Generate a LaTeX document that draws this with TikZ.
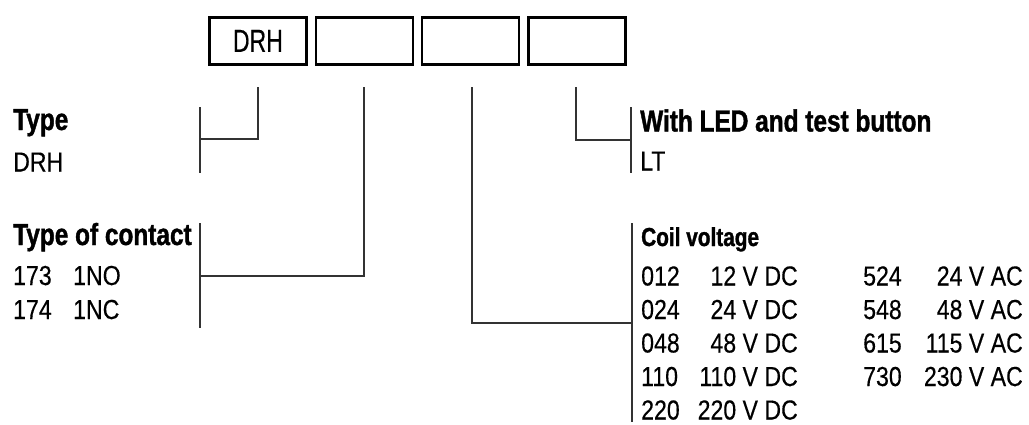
\documentclass[tikz,border=0pt]{standalone}
\usepackage{fontspec}
\setmainfont{Liberation Sans}
\newfontfamily\regf{Liberation Sans}[FakeStretch=0.84, FakeBold=0.35]
\newfontfamily\boxf{Liberation Sans}[FakeStretch=0.72, FakeBold=0.35]
\newfontfamily\boldf{Liberation Sans}[FakeStretch=0.8, BoldFeatures={FakeBold=1.2}]
\tikzset{
  codebox/.style={draw=black, line width=2.5pt, minimum width=97pt, minimum height=47pt, inner sep=0pt, font=\boxf\fontsize{32}{32}\selectfont},
  conn/.style={draw=black!80, line width=1.6pt},
  head/.style={anchor=base west, inner sep=0pt, font=\boldf\bfseries\fontsize{30.5}{30}\selectfont},
  subhead/.style={anchor=base west, inner sep=0pt, font=\boldf\bfseries\fontsize{26}{26}\selectfont},
  item/.style={anchor=base west, inner sep=0pt, font=\regf\fontsize{27.5}{27.5}\selectfont},
  val/.style={anchor=base east, inner sep=0pt, font=\regf\fontsize{27.5}{27.5}\selectfont},
}
\begin{document}
\begin{tikzpicture}[x=1pt,y=-1pt]
\fill[white] (0,0) rectangle (1029,424);
\useasboundingbox (0,0) rectangle (1029,424);
% code boxes
\node[codebox] (b1) at (257.9,40.9) {DRH};
\node[codebox] (b2) at (364.4,40.9) {};
\node[codebox] (b3) at (470.5,40.9) {};
\node[codebox] (b4) at (577.0,40.9) {};
% connector start points
\coordinate (s1) at (258,87);
\coordinate (s2) at (364,87);
\coordinate (s3) at (472,87);
\coordinate (s4) at (576,87);
% brackets
\coordinate (k1a) at (200,107); \coordinate (k1b) at (200,173); \coordinate (k1) at (200,139);
\coordinate (k2a) at (200,223); \coordinate (k2b) at (200,328); \coordinate (k2) at (200,276);
\coordinate (k3a) at (632,223); \coordinate (k3b) at (632,422); \coordinate (k3) at (632,323);
\coordinate (k4a) at (631,107); \coordinate (k4b) at (631,173); \coordinate (k4) at (631,140);
\draw[conn] (k1a) -- (k1b);
\draw[conn] (k2a) -- (k2b);
\draw[conn] (k3a) -- (k3b);
\draw[conn] (k4a) -- (k4b);
\draw[conn] (s1) |- (k1);
\draw[conn] (s2) |- (k2);
\draw[conn] (s3) |- (k3);
\draw[conn] (s4) |- (k4);
% labels
\node[head] (typeh) at (13,130) {Type};
\node[item] (typev) at (13,171.5) {DRH};
\node[head] (conth) at (13,245) {Type of contact};
\node[item] (c173) at (13,285) {173};
\node[item] (c1no) at (73,285) {1NO};
\node[item] (c174) at (13,319) {174};
\node[item] (c1nc) at (73,319) {1NC};
\node[head] (ledh) at (640,131.5) {With LED and test button};
\node[item] (ledv) at (640,170.5) {LT};
\node[subhead] (coilh) at (641,246) {Coil voltage};
% DC column
\node[item] (d1) at (641,285.5) {012}; \node[val] (dv1) at (798,285.5) {12 V DC};
\node[item] (d2) at (641,319) {024};   \node[val] (dv2) at (798,319) {24 V DC};
\node[item] (d3) at (641,352.5) {048}; \node[val] (dv3) at (798,352.5) {48 V DC};
\node[item] (d4) at (641,386) {110};   \node[val] (dv4) at (798,386) {110 V DC};
\node[item] (d5) at (641,419.5) {220}; \node[val] (dv5) at (798,419.5) {220 V DC};
% AC column
\node[item] (a1) at (863,285.5) {524}; \node[val] (av1) at (1023,285.5) {24 V AC};
\node[item] (a2) at (863,319) {548};   \node[val] (av2) at (1023,319) {48 V AC};
\node[item] (a3) at (863,352.5) {615}; \node[val] (av3) at (1023,352.5) {115 V AC};
\node[item] (a4) at (863,386) {730};   \node[val] (av4) at (1023,386) {230 V AC};
\end{tikzpicture}
\end{document}
